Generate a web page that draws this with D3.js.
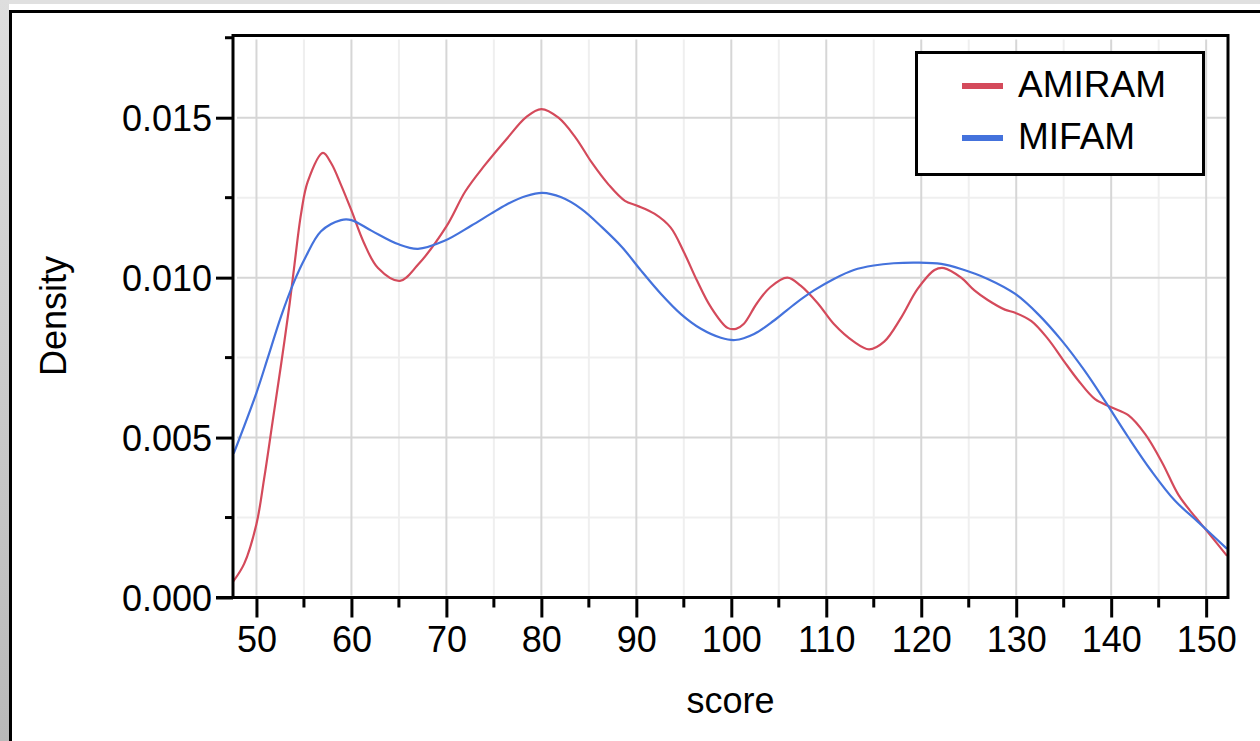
<!DOCTYPE html>
<html>
<head>
<meta charset="utf-8">
<script src="https://cdn.jsdelivr.net/npm/d3@7"></script>
<style>
  body { margin: 0; background: #fff; }
  text { font-family: "Liberation Sans", Arial, sans-serif; fill: #000; }
</style>
</head>
<body>
<script>
// density curves (score, density)
const amiramScore = [47.5, 48.7, 50, 50.8, 51.7, 52.6, 53.5, 54.0, 54.7, 55.4, 57.0, 57.9, 58.9, 60, 61.3, 62.8, 65.1, 67.0, 70, 72, 74, 76.3, 78.4, 80, 81.8, 83.6, 85.3, 87.1, 88.8, 90.1, 91.9, 93.6, 95.0, 96.4, 97.8, 99.6, 100.5, 101.3, 102.7, 104.1, 105.9, 107.3, 109.1, 110.8, 112.9, 114.5, 116.1, 117.9, 119.6, 121.4, 122.4, 124.2, 125.6, 127.0, 128.8, 129.9, 131.6, 133.3, 135, 136.5, 138.3, 140, 141.8, 143.6, 145.4, 147.1, 148.9, 150.3, 152.2];
const amiramDens = [0.00048, 0.00105, 0.0023, 0.0037, 0.0055, 0.0073, 0.0092, 0.0104, 0.0120, 0.0130, 0.0139, 0.01356, 0.0129, 0.0121, 0.0111, 0.0103, 0.0099, 0.0104, 0.0116, 0.0127, 0.0135, 0.01432, 0.01502, 0.01527, 0.0150, 0.01438, 0.0136, 0.0129, 0.0124, 0.01225, 0.0120, 0.01157, 0.0108, 0.0099, 0.0091, 0.00843, 0.0084, 0.00855, 0.0092, 0.0097, 0.0100, 0.00975, 0.0092, 0.00855, 0.0080, 0.00776, 0.0080, 0.00876, 0.00964, 0.01024, 0.0103, 0.0100, 0.0096, 0.0093, 0.0090, 0.0089, 0.00864, 0.0081, 0.0074, 0.0068, 0.0062, 0.00595, 0.0057, 0.0051, 0.0042, 0.0032, 0.0025, 0.0020, 0.0013];

const mifamScore = [47.6, 50, 51.2, 52.6, 54.0, 55.1, 56.8, 58.9, 60, 62.1, 64.9, 67, 69.8, 72.6, 74.7, 76.3, 78.4, 80.1, 82.1, 84.2, 86.4, 88.5, 90.5, 92.6, 94.7, 96.8, 98.9, 100.4, 102.4, 104.5, 106.6, 108.7, 110.8, 112.9, 115.0, 117.1, 119.6, 122.1, 124.2, 127.0, 129.9, 132.3, 134.8, 137.2, 139.3, 141.8, 144.2, 146.7, 149.2, 152.2];
const mifamDens = [0.0045, 0.0064, 0.0075, 0.0088, 0.0099, 0.0106, 0.01145, 0.0118, 0.0118, 0.01147, 0.01105, 0.0109, 0.01115, 0.01162, 0.0120, 0.01228, 0.01255, 0.01265, 0.01251, 0.01215, 0.01157, 0.01095, 0.01022, 0.00949, 0.00886, 0.0084, 0.00812, 0.00805, 0.00824, 0.00866, 0.00916, 0.0096, 0.00996, 0.01024, 0.01038, 0.01045, 0.01047, 0.01043, 0.01027, 0.00996, 0.00949, 0.00886, 0.00803, 0.00709, 0.00616, 0.00501, 0.00397, 0.00303, 0.00235, 0.00152];

const seriesNames = ["AMIRAM", "MIFAM"];
const seriesColors = ["#d44a5b", "#4472dc"];
const xTicks = [50, 60, 70, 80, 90, 100, 110, 120, 130, 140, 150];
const yTicks = [0, 0.005, 0.010, 0.015];

const W = 1260, H = 741;
const L = 233, R = 1228, T = 35.5, B = 597.5;

const x = d3.scaleLinear().domain([47.53, 152.3]).range([L, R]);
const y = d3.scaleLinear().domain([0, 0.01757]).range([B, T]);

const svg = d3.select("body").append("svg").attr("width", W).attr("height", H);

// window-ish frame round the chart
const grad = svg.append("defs").append("linearGradient").attr("id", "side")
  .attr("x1", 0).attr("y1", 0).attr("x2", 0).attr("y2", 1);
grad.append("stop").attr("offset", 0).attr("stop-color", "#dedede");
grad.append("stop").attr("offset", 1).attr("stop-color", "#b9b9b9");
svg.append("rect").attr("width", W).attr("height", 4).attr("fill", "#e0e0e0");
svg.append("rect").attr("width", 9).attr("height", H).attr("fill", "url(#side)");
svg.append("path").attr("d", `M10.5,${H} V11.5 H${W}`).attr("fill", "none")
  .attr("stroke", "#000").attr("stroke-width", 3);

// grid
const minorX = d3.range(55, 150, 10);
const minorY = [0.0025, 0.0075, 0.0125];
const grid = svg.append("g");
grid.selectAll(".mx").data(minorX).join("line")
  .attr("x1", d => x(d)).attr("x2", d => x(d)).attr("y1", T + 4).attr("y2", B - 2)
  .attr("stroke", "#efefef").attr("stroke-width", 2);
grid.selectAll(".my").data(minorY).join("line")
  .attr("x1", L + 4).attr("x2", R - 2).attr("y1", d => y(d)).attr("y2", d => y(d))
  .attr("stroke", "#efefef").attr("stroke-width", 2);
grid.selectAll(".gx").data(xTicks).join("line")
  .attr("x1", d => x(d)).attr("x2", d => x(d)).attr("y1", T + 4).attr("y2", B - 2)
  .attr("stroke", "#d6d6d6").attr("stroke-width", 2);
grid.selectAll(".gy").data(yTicks.slice(1)).join("line")
  .attr("x1", L + 4).attr("x2", R - 2).attr("y1", d => y(d)).attr("y2", d => y(d))
  .attr("stroke", "#d6d6d6").attr("stroke-width", 2);

// curves
const line = d3.line().x(d => x(d[0])).y(d => y(d[1])).curve(d3.curveCatmullRom.alpha(0.5));
svg.append("clipPath").attr("id", "plot").append("rect")
  .attr("x", L).attr("y", T).attr("width", R - L).attr("height", B - T);
const curves = [d3.zip(amiramScore, amiramDens), d3.zip(mifamScore, mifamDens)];
svg.append("g").attr("clip-path", "url(#plot)")
  .selectAll("path").data(curves).join("path")
  .attr("d", line).attr("fill", "none")
  .attr("stroke", (d, i) => seriesColors[i]).attr("stroke-width", 2.2);

// axes
const xAxis = svg.append("g").attr("transform", `translate(0,${B})`)
  .call(d3.axisBottom(x).tickValues(xTicks).tickSize(20).tickFormat(d3.format("d")));
xAxis.append("g").selectAll("line").data(minorX).join("line")
  .attr("x1", d => x(d)).attr("x2", d => x(d)).attr("y1", 0).attr("y2", 10)
  .attr("stroke", "#000").attr("stroke-width", 3);
const yAxis = svg.append("g").attr("transform", `translate(${L},0)`)
  .call(d3.axisLeft(y).tickValues(yTicks).tickSize(17).tickFormat(d3.format(".3f")));
yAxis.append("g").selectAll("line").data(minorY.concat([0.0175])).join("line")
  .attr("x1", 0).attr("x2", -8).attr("y1", d => y(d)).attr("y2", d => y(d))
  .attr("stroke", "#000").attr("stroke-width", 3);

[xAxis, yAxis].forEach(a => {
  a.select(".domain").remove();
  a.selectAll(".tick line").attr("stroke", "#000").attr("stroke-width", 3);
  a.selectAll(".tick text").style("font-size", "36px")
    .style("font-family", "'Liberation Sans', Arial, sans-serif").attr("fill", "#000");
});
xAxis.selectAll(".tick text").attr("y", 29).attr("dy", "0.71em");
yAxis.selectAll(".tick text").attr("x", -21).attr("dy", "0.36em");

// plot frame
svg.append("rect").attr("x", L).attr("y", T).attr("width", R - L).attr("height", B - T)
  .attr("fill", "none").attr("stroke", "#000").attr("stroke-width", 3);
svg.append("line").attr("x1", 216).attr("x2", L).attr("y1", B).attr("y2", B)
  .attr("stroke", "#000").attr("stroke-width", 3);

// axis titles
svg.append("text").attr("x", (L + R) / 2).attr("y", 713).attr("text-anchor", "middle")
  .style("font-size", "36px").text("score");
svg.append("text").attr("transform", "translate(66,316) rotate(-90)")
  .attr("text-anchor", "middle").style("font-size", "36px").text("Density");

// legend
const leg = svg.append("g");
leg.append("rect").attr("x", 916.5).attr("y", 52.5).attr("width", 287).attr("height", 122)
  .attr("fill", "#fff").attr("stroke", "#000").attr("stroke-width", 3);
const items = leg.selectAll(".item").data(seriesNames).join("g")
  .attr("transform", (d, i) => `translate(0,${86 + i * 52})`);
items.append("line").attr("x1", 962).attr("x2", 1003).attr("y1", 0).attr("y2", 0)
  .attr("stroke", (d, i) => seriesColors[i]).attr("stroke-width", 6);
items.append("text").attr("x", 1018).attr("y", 11).style("font-size", "37px").text(d => d);
</script>
</body>
</html>
